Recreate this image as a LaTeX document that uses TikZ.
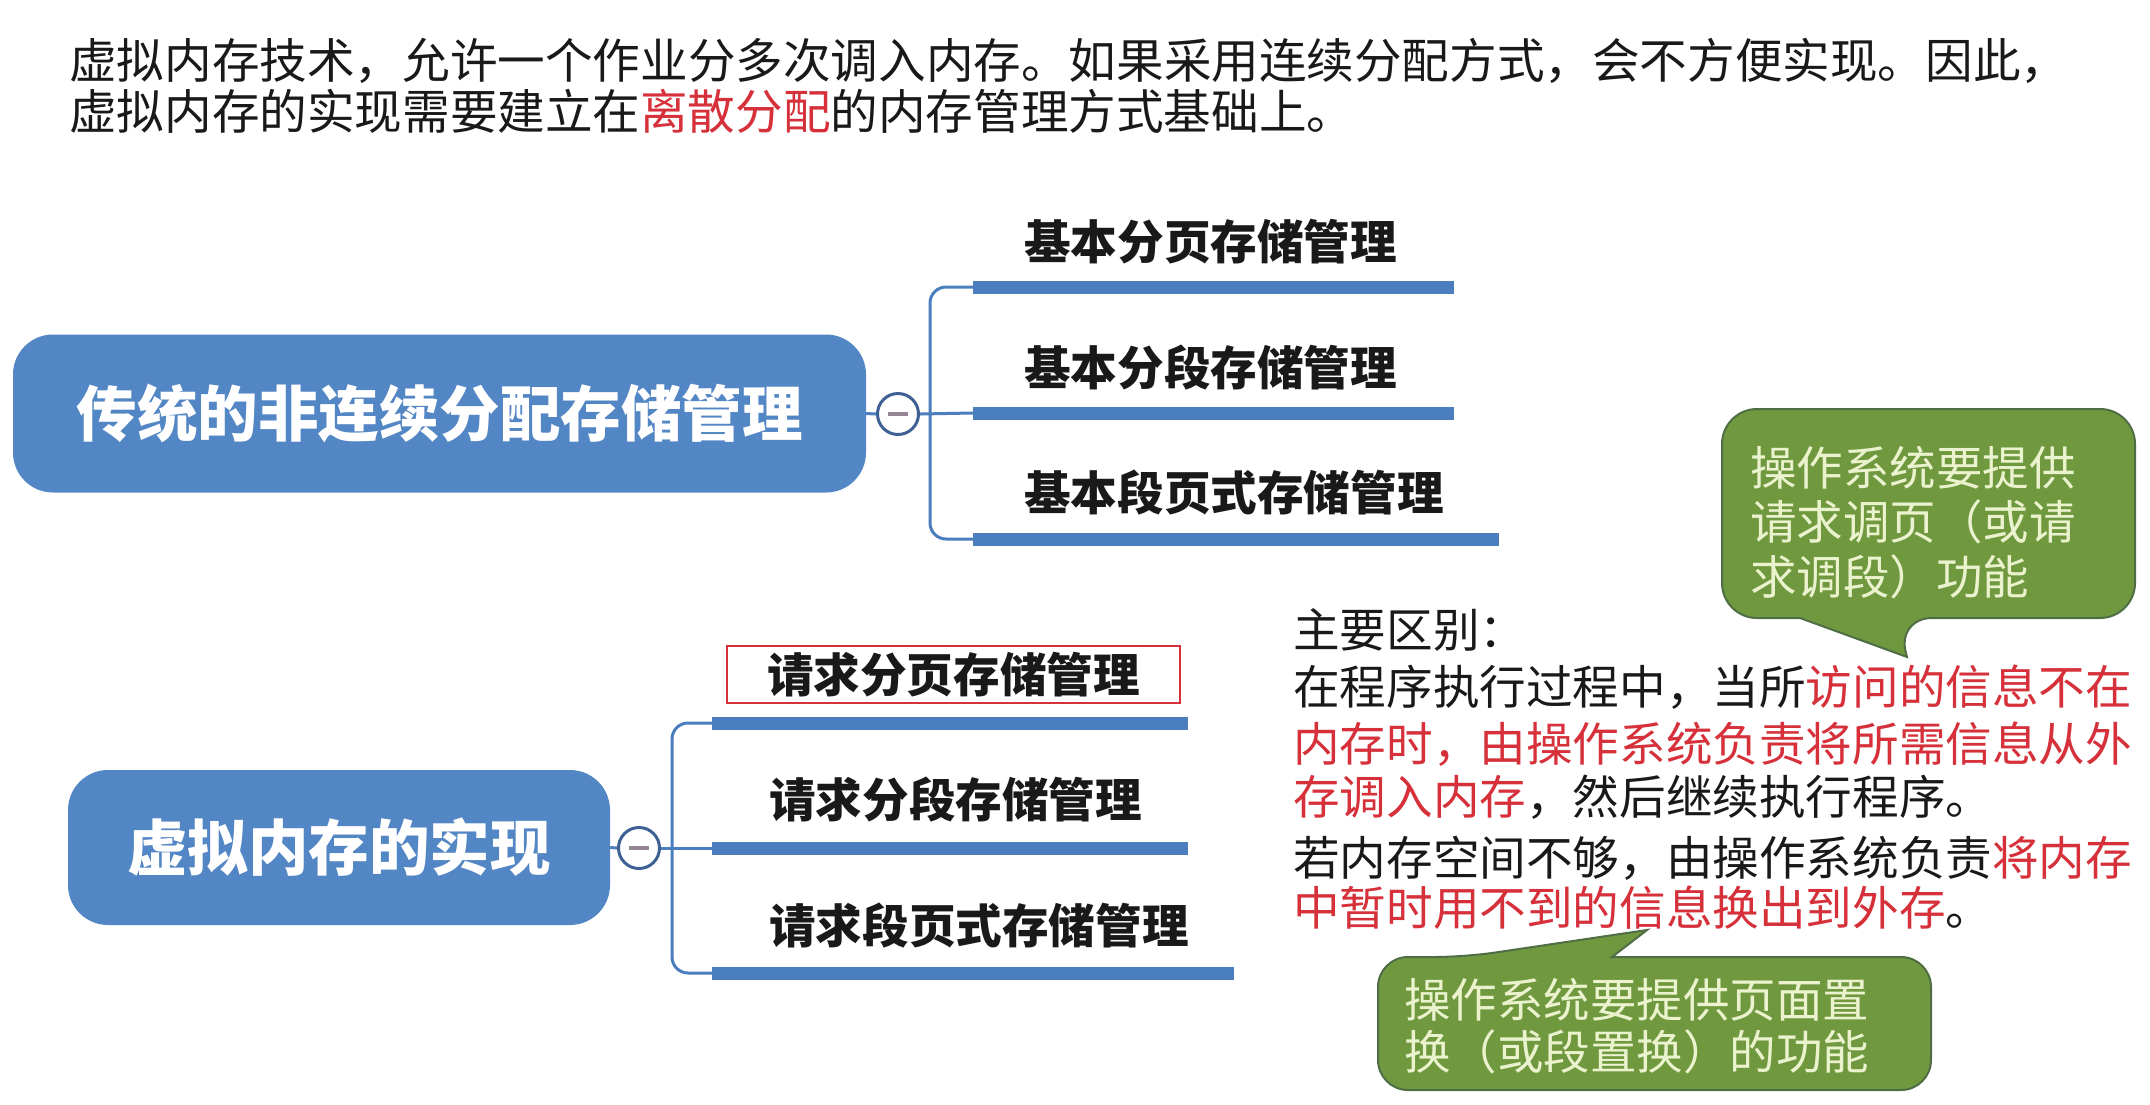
\documentclass[tikz,border=0pt]{standalone}
\usepackage{fontspec}
\setmainfont{Noto Sans CJK SC}
\usetikzlibrary{calc}
\definecolor{mblue}{RGB}{83,134,196}
\definecolor{barblue}{RGB}{74,126,190}
\definecolor{cblue}{RGB}{62,96,146}
\definecolor{tred}{RGB}{214,48,58}
\definecolor{cgreen}{RGB}{112,152,62}
\definecolor{cgreenb}{RGB}{80,110,70}
\definecolor{ctext}{RGB}{234,243,206}
\definecolor{tblack}{RGB}{25,25,25}
\definecolor{minusgray}{RGB}{150,135,150}
\newcommand\fsz[2]{\fontsize{#1}{#2}\selectfont}
\tikzset{
  mainbox/.style={fill=mblue, rounded corners=40, text=white, font={\fsz{60.5}{70}\bfseries}, inner sep=0pt},
  itemtext/.style={anchor=west, inner sep=0pt, font={\fsz{46.6}{54}\bfseries}, text=tblack},
  bodytext/.style={anchor=west, inner sep=0pt, font={\fsz{46.6}{54}}, text=tblack},
  toptext/.style={anchor=west, inner sep=0pt, font={\fsz{47.6}{56}}, text=tblack},
  calltext/.style={anchor=west, inner sep=0pt, font={\fsz{46.5}{54}}, text=ctext},
  barline/.style={draw=barblue, line width=13pt},
  thinline/.style={draw=barblue, line width=3pt},
  collapse/.style={circle, draw=cblue, line width=3pt, fill=white, minimum size=41pt, inner sep=0pt},
  minus/.style={draw=minusgray, line width=3.5pt},
  callout/.style={fill=cgreen, draw=cgreenb, line width=2pt},
  redbox/.style={draw=tred, line width=2pt, minimum width=453pt, minimum height=57pt, inner sep=0pt, font={\fsz{46.6}{54}\bfseries}, text=tblack}
}
\begin{document}
\begin{tikzpicture}[x=1pt,y=-1pt]
\useasboundingbox[fill=white] (0,0) rectangle (2150,1104);

% top text
\node[toptext] (top1) at (69,61) {虚拟内存技术，允许一个作业分多次调入内存。如果采用连续分配方式，会不方便实现。因此，};
\node[toptext] (top2) at (69,111) {虚拟内存的实现需要建立在\textcolor{tred}{离散分配}的内存管理方式基础上。};

% ---------- group 1
\node[mainbox, minimum width=853pt, minimum height=158pt] (n1) at (439.5,413.5) {传统的非连续分配存储管理};
\node[collapse] (c1) at (898,414) {};
\draw[minus] ($(c1.center)+(-10,0)$) -- ($(c1.center)+(10,0)$);
\coordinate (k1) at (930,413);
\coordinate (b11s) at (973,287); \coordinate (b11e) at (1454,287);
\coordinate (b12s) at (973,413); \coordinate (b12e) at (1454,413);
\coordinate (b13s) at (973,539); \coordinate (b13e) at (1499,539);
\draw[thinline] (n1.east) -- (c1.west);
\draw[thinline] (c1.east) -- (b12s);
\draw[thinline, rounded corners=16pt] (b11s) -| (k1) |- (b13s);
\draw[barline] (b11s) -- (b11e);
\draw[barline] (b12s) -- (b12e);
\draw[barline] (b13s) -- (b13e);
\node[itemtext] (i11) at (1024,242) {基本分页存储管理};
\node[itemtext] (i12) at (1024,368) {基本分段存储管理};
\node[itemtext] (i13) at (1024,493) {基本段页式存储管理};

% ---------- group 2
\node[mainbox, minimum width=542pt, minimum height=155pt] (n2) at (339,847.5) {虚拟内存的实现};
\node[collapse] (c2) at (639,848) {};
\draw[minus] ($(c2.center)+(-10,0)$) -- ($(c2.center)+(10,0)$);
\coordinate (k2) at (672,848);
\coordinate (b21s) at (712,723); \coordinate (b21e) at (1188,723);
\coordinate (b22s) at (712,848); \coordinate (b22e) at (1188,848);
\coordinate (b23s) at (712,973); \coordinate (b23e) at (1234,973);
\draw[thinline] (n2.east) -- (c2.west);
\draw[thinline] (c2.east) -- (b22s);
\draw[thinline, rounded corners=16pt] (b21s) -| (k2) |- (b23s);
\draw[barline] (b21s) -- (b21e);
\draw[barline] (b22s) -- (b22e);
\draw[barline] (b23s) -- (b23e);
\node[redbox] (i21) at (953.5,674.5) {请求分页存储管理};
\node[itemtext] (i22) at (769,800) {请求分段存储管理};
\node[itemtext] (i23) at (769,926) {请求段页式存储管理};

% ---------- right text
\node[bodytext] (r1) at (1293,630) {主要区别：};
\node[bodytext] (r2) at (1293,687) {在程序执行过程中，当所\textcolor{tred}{访问的信息不在}};
\node[bodytext] (r3) at (1293,744) {\textcolor{tred}{内存时，由操作系统负责将所需信息从外}};
\node[bodytext] (r4) at (1293,797) {\textcolor{tred}{存调入内存}，然后继续执行程序。};
\node[bodytext] (r5) at (1293,858) {若内存空间不够，由操作系统负责\textcolor{tred}{将内存}};
\node[bodytext] (r6) at (1293,908) {\textcolor{tred}{中暂时用不到的信息换出到外存}。};

% ---------- callout 1
\draw[callout] (1722,513) [rounded corners=35pt] -- (1722,409) -- (2135,409) -- (2135,618) -- (1897,618) [sharp corners] -- (1907,657) -- (1800,618) [rounded corners=35pt] -- (1722,618) -- cycle;
\node[calltext] (q1) at (1750,468) {操作系统要提供};
\node[calltext] (q2) at (1750,522) {请求调页（或请};
\node[calltext] (q3) at (1750,577) {求调段）功能};

% ---------- callout 2
\draw[callout] (1378,1023) [rounded corners=30pt] -- (1378,957) -- (1465,957) [sharp corners] -- (1647,930) -- (1612,957) [rounded corners=30pt] -- (1931,957) -- (1931,1090) -- (1378,1090) -- cycle;
\node[calltext] (p1) at (1404,1000) {操作系统要提供页面置};
\node[calltext] (p2) at (1404,1052) {换（或段置换）的功能};
\end{tikzpicture}
\end{document}
